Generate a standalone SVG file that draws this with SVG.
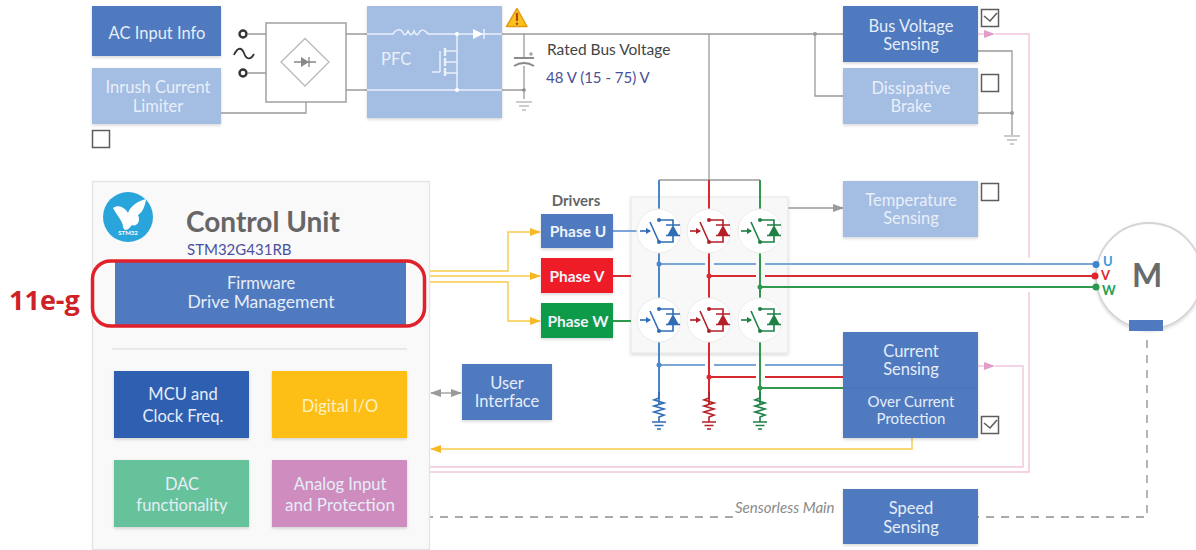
<svg xmlns="http://www.w3.org/2000/svg" xmlns:xlink="http://www.w3.org/1999/xlink" width="1196" height="550" viewBox="0 0 1196 550">
<style>
text{font-family:"Lato","Liberation Sans",sans-serif}
.t{font-size:16.5px;fill:#e6edf8;text-anchor:middle}
.tl{font-size:16.5px;fill:#e9eff9;text-anchor:middle}
.ph{font-size:15.5px;fill:#eef3fb;text-anchor:middle;font-weight:700}
.g{fill:none;stroke:#9a9a9a;stroke-width:1.3}
.w{fill:none;stroke:#eaf1fb;stroke-width:1.5}
.y{fill:none;stroke:#f7c94a;stroke-width:1.4}
.p{fill:none;stroke:#f0c6dd;stroke-width:1.4}
.blue{fill:none;stroke:#4a86c9;stroke-width:2}
.red{fill:none;stroke:#d92a30;stroke-width:2}
.grn{fill:none;stroke:#2f9a4e;stroke-width:2}
.chk{fill:#fff;stroke:#5d5d5d;stroke-width:1.5}
.ck{fill:none;stroke:#5d5d5d;stroke-width:1.6}
.dash{fill:none;stroke:#8e8e8e;stroke-width:1.3;stroke-dasharray:8 7}
.gnd{fill:none;stroke:#9a9a9a;stroke-width:1.2}
</style>
<defs>
<filter id="sh" x="-10%" y="-10%" width="120%" height="125%"><feDropShadow dx="0" dy="1.5" stdDeviation="1.5" flood-color="#000" flood-opacity=".16"/></filter>
<marker id="ay" markerWidth="12" markerHeight="8" refX="10" refY="4" orient="auto" markerUnits="userSpaceOnUse"><path d="M0 0L11 4L0 8z" fill="#f6b926"/></marker>
<marker id="apk" markerWidth="12" markerHeight="8" refX="0" refY="4" orient="auto" markerUnits="userSpaceOnUse"><path d="M0 0L11 4L0 8z" fill="#e39cc6"/></marker>
<marker id="ag" markerWidth="11" markerHeight="8" refX="10" refY="4" orient="auto-start-reverse" markerUnits="userSpaceOnUse"><path d="M0 0L11 4L0 8z" fill="#9a9a9a"/></marker>
<g id="sw">
<circle cx="0" cy="0" r="22" fill="#fff" stroke="#ececec"/>
<g fill="none" stroke="currentColor" stroke-width="1.6">
<path d="M-19 0H-9"/><path d="M-9 -9 L0 11"/>
<path d="M0 -11H14V-5M14 5V11H0"/>
<path d="M7 -6H21M7 4.500H21"/>
</g>
<path d="M-13 -3L-8 0L-13 3z" fill="currentColor"/>
<path d="M14 -6L8 5H20z" fill="currentColor"/>
<circle cx="0" cy="-11" r="2" fill="currentColor"/><circle cx="0" cy="11" r="2" fill="currentColor"/>
</g>
<g id="rgnd" fill="none" stroke="currentColor" stroke-width="1.6">
<path d="M0 0V6L-5 8L5 11L-5 14L5 17L-5 20L5 23L0 25V30"/>
<path d="M-7 30H7M-4.500 33.500H4.500M-2 37H2"/>
</g>
<path id="gr" d="M-8 0H8M-5 4H5M-2 8H2"/>
</defs>

<g id="connectors">
<path class="g" d="M248 34H266M248 73H266M221 113H306V102M346 34H367M346 90H367"/>
<path class="g" d="M502 34H843M502 90H524M524 34V58M524 66V99"/>
<use xlink:href="#gr" class="gnd" x="524" y="102"/>
<circle cx="524" cy="90" r="1.800" fill="#8a8a8a"/>
<path class="g" d="M815 34V96H843M978 51H1012V135M978 113H1012"/>
<circle cx="815" cy="34" r="2" fill="#9a9a9a"/><circle cx="1012" cy="113" r="2" fill="#9a9a9a"/>
<use xlink:href="#gr" class="gnd" x="1012" y="136"/>
<path class="g" d="M709 34V180M659 180H760"/>
<path class="g" d="M788 208H843" marker-end="url(#ag)"/>
<path class="p" d="M978 34H984" marker-end="url(#apk)"/>
<path class="p" d="M995 34H1029V258M1029 292V472H430"/>
<path class="p" d="M978 366H984" marker-end="url(#apk)"/>
<path class="p" d="M995 366H1023V467H430"/>
<path class="y" d="M912 438V449H431" marker-end="url(#ay)"/>
<path class="y" d="M430 271H508V232H540" marker-end="url(#ay)"/>
<path class="y" d="M430 276H540" marker-end="url(#ay)"/>
<path class="y" d="M430 282H508V321H540" marker-end="url(#ay)"/>
<path class="g" d="M431 393H461" marker-start="url(#ag)" marker-end="url(#ag)"/>
<path class="dash" d="M1147 340V517H978"/>
<path class="dash" d="M733 517H430"/>
</g>

<g id="panel-power">
<rect x="631" y="197" width="157" height="156" fill="#f8f8f8" stroke="#e6e6e6" filter="url(#sh)"/>
</g>
<g id="phases">
<path class="blue" d="M613 231H640M659 264H705M714 264H756M765 264H1096M659 365H705M714 365H756M765 365H843" style="stroke:#7aa7d8"/>
<path class="blue" d="M659 180V405"/>
<path class="red" d="M709 180V405M613 276H631M709 276H756M765 276H1096M709 377H756M765 377H843"/>
<path class="grn" d="M760 180V405M760 287H1096M760 388H843M613 321H631"/>
<g style="color:#2f6db5"><use xlink:href="#sw" x="659" y="231"/><use xlink:href="#sw" x="659" y="320"/><use xlink:href="#rgnd" x="659" y="392"/></g>
<g style="color:#b32028"><use xlink:href="#sw" x="709" y="231"/><use xlink:href="#sw" x="709" y="320"/><use xlink:href="#rgnd" x="709" y="392"/></g>
<g style="color:#1f7f45"><use xlink:href="#sw" x="760" y="231"/><use xlink:href="#sw" x="760" y="320"/><use xlink:href="#rgnd" x="760" y="392"/></g>
<circle cx="659" cy="264" r="2.500" fill="#4a86c9"/><circle cx="709" cy="276" r="2.500" fill="#d92a30"/><circle cx="760" cy="287" r="2.500" fill="#2f9a4e"/>
<circle cx="659" cy="365" r="2.500" fill="#4a86c9"/><circle cx="709" cy="377" r="2.500" fill="#d92a30"/><circle cx="760" cy="388" r="2.500" fill="#2f9a4e"/>
</g>

<g id="ac-input"><rect x="92" y="6" width="129" height="50" fill="#4f7abf" filter="url(#sh)"/><text class="t" x="157" y="39">AC Input Info</text></g>
<g id="inrush"><rect x="92" y="68" width="129" height="56" fill="#a3bde3" filter="url(#sh)"/><text class="tl" x="158" y="93">Inrush Current</text><text class="tl" x="158" y="112">Limiter</text></g>
<g id="inrush-check"><rect class="chk" x="92.500" y="130.500" width="17" height="17"/></g>

<g id="ac-source" fill="none" stroke="#333">
<circle cx="243" cy="34" r="3.500" stroke-width="2.400"/><circle cx="243" cy="73" r="3.500" stroke-width="2.400"/>
<path d="M234 55C238 46 242 48 244 53C246 59 250 61 254 54" stroke-width="1.800"/>
</g>
<g id="rectifier">
<rect x="266" y="23" width="80" height="79" fill="#fff" stroke="#9a9a9a" stroke-width="1.400"/>
<path d="M305 38.500L329 62L305 86L281 62z" fill="#fff" stroke="#b9b9b9" stroke-width="1.300"/>
<path d="M294 62H316M309 57V67" stroke="#888" fill="none" stroke-width="1.300"/><path d="M301 57L309 62L301 67z" fill="#888"/>
</g>
<g id="pfc">
<rect x="367" y="6" width="135" height="112" fill="#a3bde3" filter="url(#sh)"/>
<path class="w" d="M367 34H393C396 29 399 29 402 31C404 36 406 36 408 31C410 36 412 36 414 31C416 36 418 36 420 31C423 29 425 30 428 34H502M367 90H502M457 34V90"/>
<path class="w" d="M457 51H445M457 62H445M457 73H445M440 51V72M432 72H440"/>
<path class="w" d="M445 48V56M445 58V66M445 68V76" style="stroke-width:2.400"/>
<path d="M473 29L483 34L473 39z" fill="#fff"/><path class="w" d="M484 29V39"/>
<circle cx="457" cy="34" r="2" fill="#fff"/><circle cx="457" cy="90" r="2" fill="#fff"/>
<text x="381" y="65" font-size="16.500" fill="#e9eff9">PFC</text>
</g>
<g id="warning">
<path d="M517 8.500L527 26.500H506.500z" fill="#f9c21a" stroke="#e39a12" stroke-width="1.500" stroke-linejoin="round"/>
<path d="M517 13V21" stroke="#b5431a" stroke-width="2.200"/><circle cx="517" cy="23.800" r="1.200" fill="#b5431a"/>
</g>
<g id="capacitor" fill="none" stroke="#8a8a8a" stroke-width="1.800"><path d="M514 58H534M514 66C520 62 528 62 534 66"/><path d="M529 54H533M531 52V56" stroke-width="1"/></g>
<g id="bus-label"><text x="547" y="55" font-size="15.500" fill="#444">Rated Bus Voltage</text><text x="546" y="83" font-size="15" fill="#4a4f96">48 V (15 - 75) V</text></g>

<g id="bus-sensing"><rect x="843" y="6" width="135" height="56" fill="#4f7abf" filter="url(#sh)"/><text class="t" x="911" y="32">Bus Voltage</text><text class="t" x="911" y="50">Sensing</text></g>
<g id="bus-check"><rect class="chk" x="981.500" y="9.500" width="17" height="17"/><path class="ck" d="M984 16L990 21L997 13"/></g>
<g id="brake"><rect x="843" y="68" width="135" height="56" fill="#a3bde3" filter="url(#sh)"/><text class="tl" x="911" y="94">Dissipative</text><text class="tl" x="911" y="112">Brake</text></g>
<g id="brake-check"><rect class="chk" x="981.500" y="74.500" width="17" height="17"/></g>
<g id="temperature"><rect x="843" y="181" width="135" height="56" fill="#a3bde3" filter="url(#sh)"/><text class="tl" x="911" y="206">Temperature</text><text class="tl" x="911" y="224">Sensing</text></g>
<g id="temp-check"><rect class="chk" x="981.500" y="183.500" width="17" height="17"/></g>
<g id="current"><rect x="843" y="332" width="135" height="106" fill="#4f7abf" filter="url(#sh)"/><path d="M843 388H978" stroke="#4773b8"/><text class="t" x="911" y="357">Current</text><text class="t" x="911" y="375">Sensing</text><text class="t" x="911" y="407" style="font-size:15px">Over Current</text><text class="t" x="911" y="424" style="font-size:15px">Protection</text></g>
<g id="current-check"><rect class="chk" x="981.500" y="416.500" width="17" height="17"/><path class="ck" d="M984 423L990 428L997 420"/></g>
<g id="speed"><rect x="843" y="489" width="135" height="55" fill="#4f7abf" filter="url(#sh)"/><text class="t" x="911" y="514">Speed</text><text class="t" x="911" y="533">Sensing</text></g>
<text x="735" y="513" font-size="15" font-style="italic" fill="#8a8a8a">Sensorless Main</text>

<g id="motor">
<circle cx="1149" cy="276" r="53" fill="#fff" stroke="#d4d4d4" stroke-width="1.800" filter="url(#sh)"/>
<rect x="1129" y="320" width="34" height="11" fill="#4f7abf"/>
<text x="1147" y="287" font-size="32" font-weight="700" fill="#6a6a6a" text-anchor="middle">M</text>
<circle cx="1096" cy="264.500" r="3.500" fill="#3a87d0"/><circle cx="1095" cy="276" r="3.500" fill="#e0262c"/><circle cx="1096" cy="287" r="3.500" fill="#2a9a4e"/>
<text x="1103" y="266" font-size="13" font-weight="700" fill="#3a9ad9">U</text>
<text x="1101" y="280" font-size="13" font-weight="700" fill="#e0262c">V</text>
<text x="1102" y="295" font-size="13" font-weight="700" fill="#22a050">W</text>
</g>

<g id="drivers">
<text x="576" y="206" font-size="15" font-weight="700" fill="#666" text-anchor="middle">Drivers</text>
<g id="phase-u"><rect x="541" y="214" width="72" height="34" fill="#4f7abf" filter="url(#sh)"/><text class="ph" x="578" y="237">Phase U</text></g>
<g id="phase-v"><rect x="541" y="258" width="72" height="35" fill="#ee1c25" filter="url(#sh)"/><text class="ph" x="577" y="282">Phase V</text></g>
<g id="phase-w"><rect x="541" y="303" width="72" height="35" fill="#0c9a48" filter="url(#sh)"/><text class="ph" x="578" y="327">Phase W</text></g>
</g>
<g id="user-interface"><rect x="462" y="364" width="90" height="56" fill="#4f7abf" filter="url(#sh)"/><text class="t" x="507" y="389">User</text><text class="t" x="507" y="407">Interface</text></g>

<g id="control-unit">
<rect x="92.500" y="181.500" width="337" height="368" fill="#f9f9f9" stroke="#e4e4e4" stroke-width="1.400"/>
<circle cx="128" cy="217" r="25" fill="#2aa5dc"/>
<path d="M113 208C119 204 125 208 128 213C130 207 137 201 146 199C145 207 142 213 138 215C141 221 137 227 132 225C129 229 125 233 123 227C123 221 117 216 113 208z" fill="#fff"/>
<text x="128" y="235" font-size="6" font-weight="700" fill="#fff" text-anchor="middle">STM32</text>
<text x="186" y="232" font-size="28" font-weight="700" fill="#666">Control Unit</text>
<text x="187" y="255" font-size="15" fill="#4a4f9e">STM32G431RB</text>
<path d="M112 349H407" stroke="#e3e3e3" stroke-width="1.500"/>
</g>
<g id="firmware"><rect x="115" y="262" width="291" height="63" fill="#4f7abf"/><text class="t" x="261" y="289">Firmware</text><text class="t" x="261" y="308" style="font-size:17.500px">Drive Management</text></g>
<g id="mcu"><rect x="114" y="371" width="135" height="67" fill="#2f5fb0" filter="url(#sh)"/><text class="t" x="183" y="400">MCU and</text><text class="t" x="183" y="422">Clock Freq.</text></g>
<g id="digital"><rect x="272" y="371" width="135" height="67" fill="#fdbf12" filter="url(#sh)"/><text class="t" x="340" y="412" style="fill:#fdf0c2">Digital I/O</text></g>
<g id="dac"><rect x="114" y="460" width="135" height="67" fill="#66c29a" filter="url(#sh)"/><text class="t" x="182" y="490">DAC</text><text class="t" x="182" y="511">functionality</text></g>
<g id="analog"><rect x="272" y="460" width="135" height="67" fill="#cf8dbf" filter="url(#sh)"/><text class="t" x="340" y="490">Analog Input</text><text class="t" x="340" y="511" style="font-size:17px">and Protection</text></g>

<g id="callout">
<rect x="92.500" y="261" width="332" height="65" rx="18" fill="none" stroke="#e0202a" stroke-width="3.500"/>
<text x="9" y="310" font-size="27" font-weight="700" fill="#cf2228" style="font-family:'Open Sans','Liberation Sans',sans-serif">11e-g</text>
</g>
</svg>
